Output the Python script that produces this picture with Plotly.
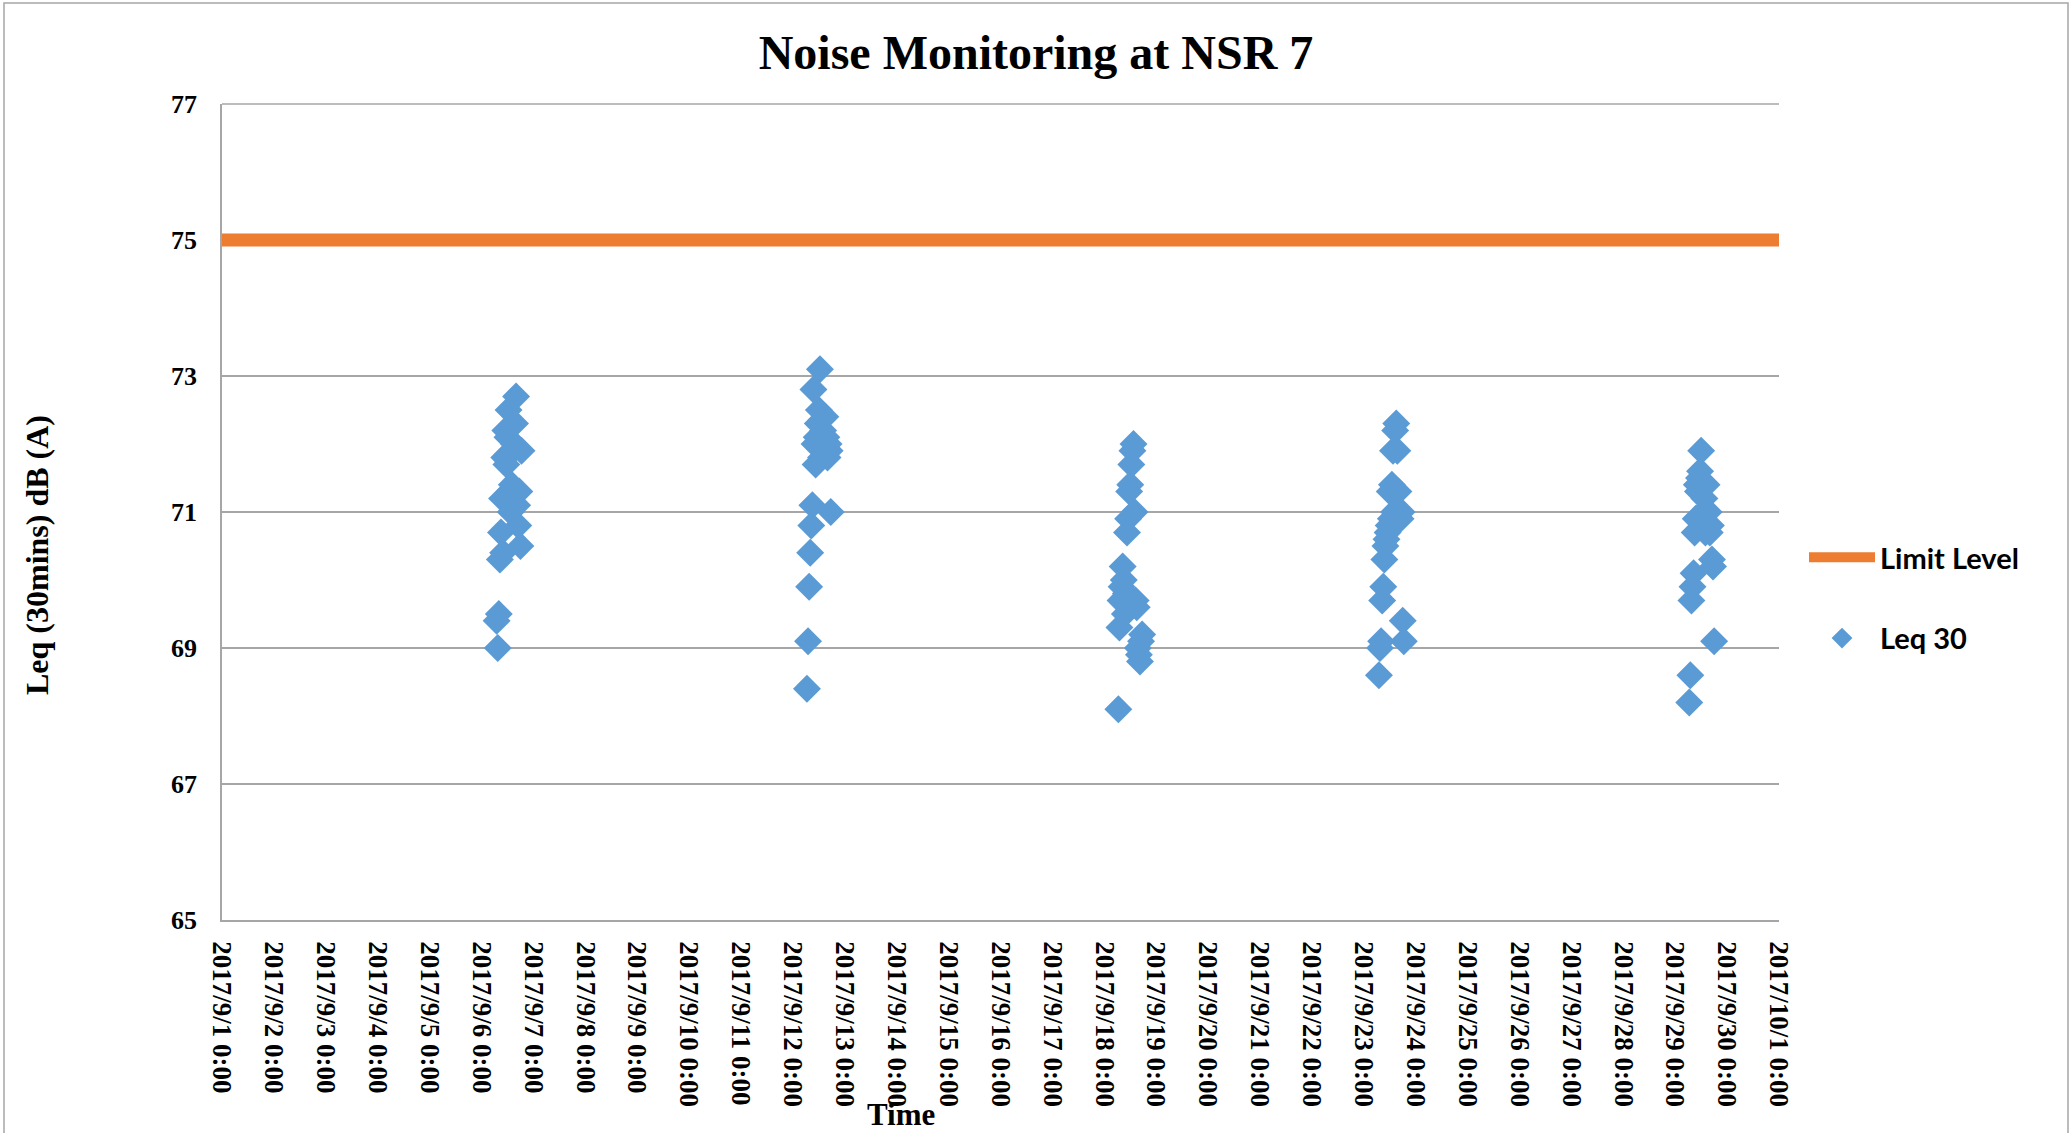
import plotly.graph_objects as go

# ---------------- data ----------------
day1_date = "2017-09-06"
day1_times = ["07:00", "07:30", "08:00", "08:30", "09:00", "09:30", "10:00", "10:30", "11:00", "11:30",
              "12:00", "12:30", "13:00", "13:30", "14:00", "14:30", "15:00", "15:30", "16:00", "16:30",
              "17:00", "17:30", "18:00", "18:30"]
day1_leq = [69.4, 69.0, 69.5, 70.3, 70.7, 71.2, 70.4, 71.8, 72.2, 71.7,
            72.1, 72.5, 71.3, 71.0, 71.4, 71.9, 72.0, 72.3, 72.7, 71.1,
            70.8, 71.3, 70.5, 71.9]

day2_date = "2017-09-12"
day2_times = ["06:30", "07:00", "07:30", "08:00", "08:30", "09:00", "09:30", "10:00", "10:30", "11:00",
              "11:30", "12:00", "12:30", "13:00", "13:30", "14:00", "14:30", "15:00", "15:30", "16:00",
              "16:30", "17:00", "17:30"]
day2_leq = [68.4, 69.1, 69.9, 70.4, 70.8, 71.1, 72.8, 72.0, 71.7, 72.1,
            72.3, 72.5, 73.1, 71.8, 72.0, 72.2, 71.9, 72.4, 72.1, 71.8,
            72.0, 71.9, 71.0]

day3_date = "2017-09-18"
day3_times = ["06:30", "07:00", "07:30", "08:00", "08:30", "09:00", "09:30", "10:00", "10:30", "11:00",
              "11:30", "12:00", "12:30", "13:00", "13:30", "14:00", "14:30", "15:00", "15:30", "16:00",
              "16:30", "17:00", "17:30"]
day3_leq = [68.1, 69.3, 69.7, 69.9, 70.2, 70.0, 69.5, 69.8, 70.7, 70.9,
            71.3, 71.4, 71.7, 71.9, 72.0, 71.0, 69.7, 69.6, 69.0, 68.9,
            68.8, 69.1, 69.2]

day4_date = "2017-09-23"
day4_times = ["07:00", "07:30", "08:00", "08:30", "09:00", "09:30", "10:00", "10:30", "11:00", "11:30",
              "12:00", "12:30", "13:00", "13:30", "14:00", "14:30", "15:00", "15:30", "16:00", "16:30",
              "17:00", "17:30", "18:00", "18:30"]
day4_leq = [68.6, 69.0, 69.1, 69.7, 69.9, 70.3, 70.5, 70.6, 70.7, 70.8,
            71.3, 70.9, 71.4, 71.9, 71.0, 72.2, 72.3, 71.9, 71.3, 71.0,
            70.9, 71.0, 69.4, 69.1]

day5_date = "2017-09-29"
day5_times = ["06:30", "07:00", "07:30", "08:00", "08:30", "09:00", "09:30", "10:00", "10:30", "11:00",
              "11:30", "12:00", "12:30", "13:00", "13:30", "14:00", "14:30", "15:00", "15:30", "16:00",
              "16:30", "17:00", "17:30", "18:00"]
day5_leq = [68.2, 68.6, 69.7, 69.9, 70.1, 70.7, 70.9, 71.4, 71.3, 71.5,
            71.6, 71.9, 71.4, 71.0, 71.2, 70.7, 71.4, 70.8, 71.0, 70.7,
            70.8, 70.3, 70.2, 69.1]

limit_x = ["2017-09-01 00:00", "2017-10-01 00:00"]
limit_y = [75, 75]

x_range = ["2017-09-01 00:00", "2017-10-01 00:00"]
y_range = [65, 77]
y_ticks = [65, 67, 69, 71, 73, 75, 77]

# ---------------- build ----------------
leq_x = []
leq_y = []
for d, ts, vs in [(day1_date, day1_times, day1_leq), (day2_date, day2_times, day2_leq),
                  (day3_date, day3_times, day3_leq), (day4_date, day4_times, day4_leq),
                  (day5_date, day5_times, day5_leq)]:
    leq_x += [f"{d} {t}" for t in ts]
    leq_y += vs

W, H = 2072, 1133
L, R, T, B = 222, 1779, 104, 920
pw, ph = R - L, B - T


def px(x):
    return (x - L) / pw


def py(y):
    return (B - y) / ph


SERIF = "Liberation Serif"
GRID = "#A6A6A6"

fig = go.Figure()
fig.add_trace(go.Scatter(
    x=limit_x, y=limit_y, mode="lines", name="Limit Level",
    line=dict(color="#ED7D31", width=13), legendgroup="a", cliponaxis=False,
))
fig.add_trace(go.Scatter(
    x=leq_x, y=leq_y, mode="markers", name="Leq 30",
    marker=dict(symbol="diamond", color="#5B9BD5", size=21.5, line=dict(width=0)),
    legendgroup="b",
))

fig.update_layout(
    width=W, height=H,
    margin=dict(l=L, r=W - R, t=T, b=H - B, autoexpand=False),
    paper_bgcolor="white", plot_bgcolor="white",
    title=dict(text="Noise Monitoring at NSR 7", x=0.5, xref="container", xanchor="center",
               y=1 - 52 / H, yref="container", yanchor="middle",
               font=dict(family=SERIF, size=48, color="black", weight="bold")),
    showlegend=True,
    legend=dict(x=px(1804), xanchor="left", y=py(532), yanchor="top",
                font=dict(family="Lato", size=29, color="black", weight="bold"),
                tracegroupgap=40, itemwidth=66, bgcolor="rgba(0,0,0,0)"),
    xaxis=dict(type="date", range=x_range, tick0="2017-09-01", dtick=86400000,
               tickformat="%Y/%-m/%-d %-H:%M", tickangle=90, showgrid=False,
               showline=True, linecolor=GRID, linewidth=1.5, ticks="", zeroline=False,
               ticklabelstandoff=14,
               tickfont=dict(family=SERIF, size=27, color="black", weight="bold")),
    yaxis=dict(range=y_range, tickvals=y_ticks, showgrid=True, gridcolor=GRID, gridwidth=1.5,
               showline=True, linecolor=GRID, linewidth=1.5, ticks="", zeroline=False,
               ticklabelstandoff=18,
               tickfont=dict(family=SERIF, size=26, color="black", weight="bold")),
    annotations=[
        dict(text="Leq (30mins) dB (A)", xref="paper", yref="paper", x=px(37), y=py(555),
             xanchor="center", yanchor="middle", textangle=-90, showarrow=False,
             font=dict(family=SERIF, size=32, color="black", weight="bold")),
        dict(text="Time", xref="paper", yref="paper", x=px(901), y=py(1114),
             xanchor="center", yanchor="middle", showarrow=False,
             font=dict(family=SERIF, size=31, color="black", weight="bold")),
    ],
    shapes=[
        dict(type="rect", xref="paper", yref="paper", x0=px(4), x1=px(2068), y0=py(1150), y1=py(3),
             line=dict(color=GRID, width=1.5), fillcolor="rgba(0,0,0,0)", layer="below"),
        dict(type="line", xref="paper", yref="paper", x0=0, x1=1, y0=1, y1=1,
             line=dict(color=GRID, width=1.5), layer="below"),
    ],
)

fig.write_html("out.html", config={"displayModeBar": False},
               post_script="document.body.style.margin='0';document.body.style.overflow='hidden';")
